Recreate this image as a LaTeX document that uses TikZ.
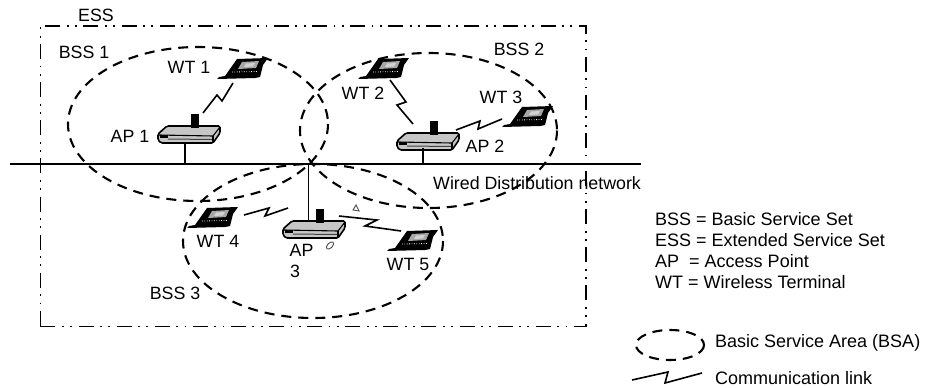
\documentclass[tikz,border=0pt]{standalone}
\usepackage{fontspec}
\setmainfont{Liberation Sans}
\tikzset{
  x=1pt,y=-1pt,
  lbl/.style={inner sep=0pt,font=\fontsize{17.8}{20}\selectfont},
  leg/.style={inner sep=0pt,anchor=west,font=\fontsize{18}{20}\selectfont},
  bsa/.style={draw=black,line width=2.1pt,dash pattern=on 10pt off 7pt,fill=none},
  essbox/.style={draw=black,line width=1.8pt,dash pattern=on 15pt off 6.5pt on 1.8pt off 6.5pt on 1.8pt off 6.5pt},
  wire/.style={draw=black,line width=2pt},
  stem/.style={draw=black,line width=1.8pt},
  zig/.style={draw=black,line width=1.6pt,line join=miter},
  speck/.style={draw=black!70,line width=.9pt,fill=white},
  laptop/.pic={
    \fill[black] (0,0)--(2,-2)--(8,-3)--(20,-20)--(51,-21)--(46,-14)--(43,-2)--(38,-1)--cycle;
    \fill[gray!70] (25,-17)--(42,-18)--(39,-11)--(21,-10)--cycle;
    \fill[gray!35] (29,-15.5)--(38,-16)--(36,-12.5)--(27,-12)--cycle;
    \draw[white,line width=.8pt,dash pattern=on .8pt off 1.6pt] (15,-7)--(41,-7.5);
  },
  apbox/.pic={
    \draw[line width=1.6pt,fill=gray!45,rounded corners=1.5pt] (0,8)--(9,0)--(62,0)--(62,7)--(55,17)--(3,17)--(0,14)--cycle;
    \draw[line width=1.1pt] (1,9)--(55,10)--(62,1);
    \draw[line width=1.1pt] (55,10)--(55,17);
    \fill[black] (2,9)--(10,9)--(10,12)--(2,12)--cycle;
    \draw[line width=1pt,black!75] (10,13)--(54,13.5);
    \fill[black] (33,-12) rectangle (40.5,2);
  },
}
\begin{document}
\begin{tikzpicture}
\useasboundingbox (0,0) rectangle (926,388);
\fill[white] (0,0) rectangle (926,388);

% service sets
\node[essbox,minimum width=545.5pt,minimum height=300.5pt,inner sep=0pt,anchor=north west] (ess) at (39.5,25) {};
\draw[bsa] (198,124) ellipse [x radius=130,y radius=77];
\draw[bsa] (428.5,130.5) ellipse [x radius=128.5,y radius=77.5];
\draw[bsa] (313,241) ellipse [x radius=130,y radius=77];

% wired network
\coordinate (wireL) at (10,164);
\coordinate (wireR) at (641,164);
\draw[wire] (wireL) -- (wireR);

% access points
\pic at (158,126) {apbox};
\pic at (397,133) {apbox};
\pic at (283,221) {apbox};
\coordinate (ap1s) at (185,143);
\coordinate (ap2s) at (423,148);
\coordinate (ap3s) at (308.5,221);
\draw[stem] (ap1s) -- (ap1s |- wireL);
\draw[stem] (ap2s) -- (ap2s |- wireL);
\draw[stem] (ap3s) -- (ap3s |- wireL);

% terminals
\pic at (217,79) {laptop};
\pic at (358,79) {laptop};
\pic at (502,127) {laptop};
\pic at (187,228) {laptop};
\pic at (387,251) {laptop};

% communication links
\coordinate (l1a) at (203,113); \coordinate (l1b) at (233,83);
\coordinate (l2a) at (413,124); \coordinate (l2b) at (390,80);
\coordinate (l3a) at (456,130); \coordinate (l3b) at (502,119);
\coordinate (l4a) at (288,208); \coordinate (l4b) at (244,215);
\coordinate (l5a) at (339,216); \coordinate (l5b) at (401,231);
\draw[zig] (l1a) -- (217,95) -- (222,101) -- (l1b);
\draw[zig] (l2b) -- (406,102) -- (397,105) -- (l2a);
\draw[zig] (l3a) -- (480,121) -- (478,129) -- (l3b);
\draw[zig] (l4b) -- (269,208) -- (265,216) -- (l4a);
\draw[zig] (l5a) -- (377,220) -- (365,226) -- (l5b);

% scan specks
\draw[speck] (356,205) -- (359,211) -- (353,210) -- cycle;
\draw[speck,rotate around={45:(330,245.5)}] (330,245.5) ellipse [x radius=4.5,y radius=2.5];

% labels
\node[lbl] (tESS) at (96,15) {ESS};
\node[lbl] (tB1) at (84,52) {BSS 1};
\node[lbl] (tW1) at (189,67) {WT 1};
\node[lbl] (tA1) at (130,136) {AP 1};
\node[lbl] (tB2) at (519,49.5) {BSS 2};
\node[lbl] (tW2) at (363,93) {WT 2};
\node[lbl] (tW3) at (501,97) {WT 3};
\node[lbl] (tA2) at (485,146) {AP 2};
\node[lbl,anchor=west] (tWired) at (433,183) {Wired Distribution network};
\node[lbl] (tW4) at (218,241) {WT 4};
\node[lbl] (tA3) at (301.5,250) {AP};
\node[lbl] (tA3b) at (295,271) {3};
\node[lbl] (tW5) at (408,264) {WT 5};
\node[lbl] (tB3) at (175,293) {BSS 3};

% legend
\node[leg] (k1) at (655,219) {BSS = Basic Service Set};
\node[leg] (k2) at (655,240) {ESS = Extended Service Set};
\node[leg] (k3) at (655,261) {AP\hspace{10pt}= Access Point};
\node[leg] (k4) at (655,282) {WT\hspace{5pt}= Wireless Terminal};
\draw[bsa,dash pattern=on 10pt off 7pt] (670,345) ellipse [x radius=34,y radius=15];
\node[leg] (k5) at (715,343) {Basic Service Area (BSA)};
\coordinate (ca) at (632,380); \coordinate (cb) at (702,373);
\draw[zig] (ca) -- (668,372) -- (665,383) -- (cb);
\node[leg] (k6) at (715,378) {Communication link};
\end{tikzpicture}
\end{document}
